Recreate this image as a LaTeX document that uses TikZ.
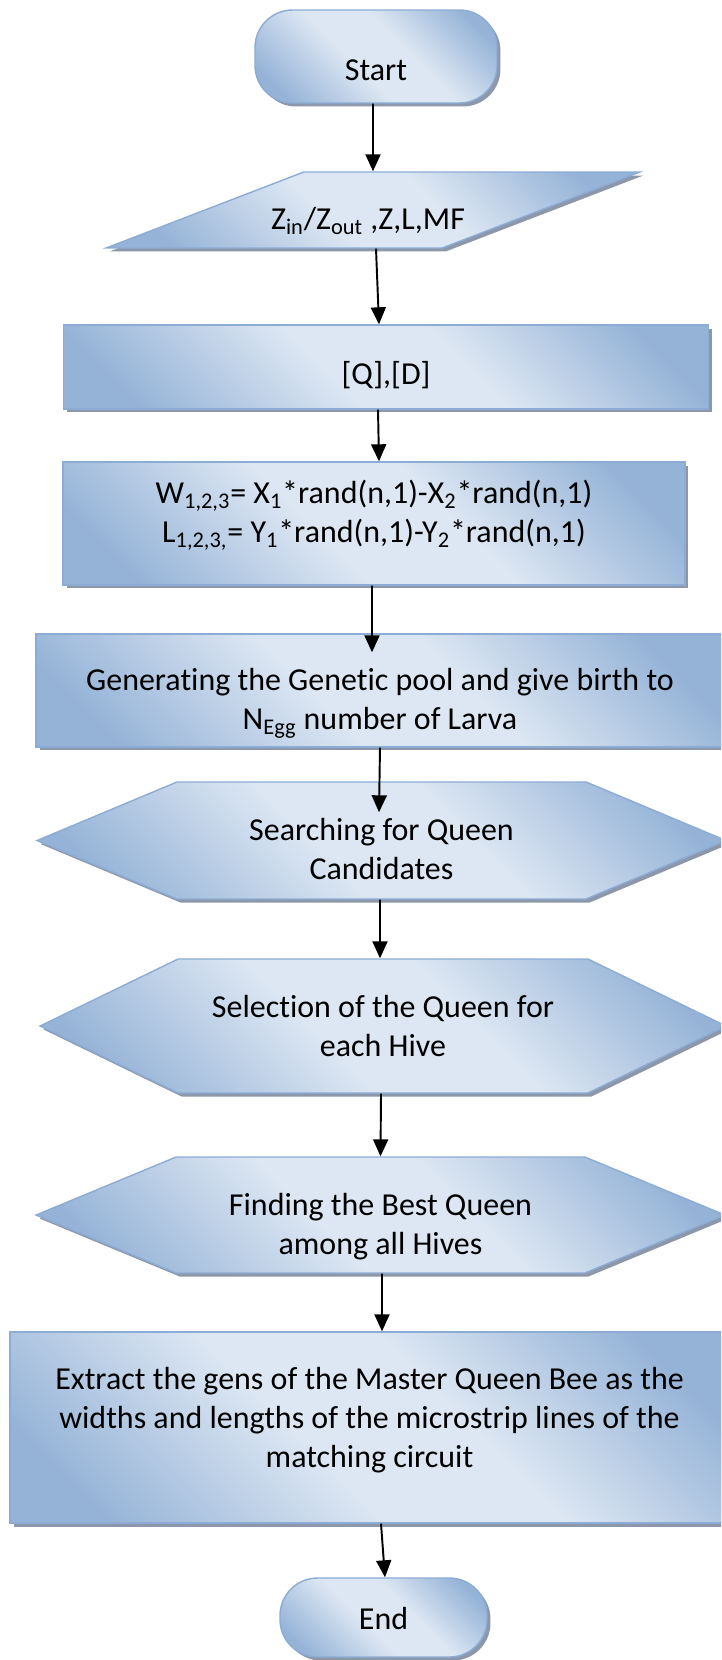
\documentclass[tikz,border=0pt]{standalone}
\usepackage{fontspec}
\setmainfont{Carlito}[Ligatures=NoCommon]
\usetikzlibrary{positioning,arrows.meta,shapes.geometric,shapes.symbols,shadows}
\definecolor{blight}{RGB}{221,231,243}
\definecolor{bdark}{RGB}{149,179,215}
\definecolor{bline}{RGB}{140,172,214}
\definecolor{shadowc}{RGB}{140,152,170}
\pgfdeclareverticalshading{officeblue}{100bp}{color(0bp)=(bdark); color(22bp)=(bdark);
  color(44bp)=(blight); color(58bp)=(blight); color(78bp)=(bdark); color(100bp)=(bdark)}

\begin{document}
\begin{tikzpicture}[
  x=0.02cm, y=-0.02cm,
  every label/.style={font=\fontsize{18.2}{22.2}\selectfont, align=center, inner sep=0pt},
  flowbox/.style={draw=bline, line width=0.8pt, inner sep=2pt,
    shading=officeblue, shading angle=-45,
    drop shadow={shadow xshift=0.07cm, shadow yshift=-0.07cm, fill=shadowc, opacity=1}},
  term/.style={flowbox, rectangle, rounded corners=0.75cm},
  io/.style={flowbox, trapezium, trapezium left angle=35, trapezium right angle=145,
    trapezium stretches=true},
  proc/.style={flowbox, rectangle},
  prep/.style={flowbox, signal, signal to=west and east},
  arr/.style={-{Triangle[length=0.34cm, width=0.3cm]}, line width=1.1pt},
]
  \useasboundingbox (0,0) rectangle (721,1660);
  \clip (0,0) rectangle (721,1660);

  \node[term, minimum width=4.84cm, minimum height=1.86cm,
    label={[yshift=-0.28cm]center:Start}] (start) at (376,56.5) {};
  \node[io, minimum width=10.68cm, minimum height=1.52cm,
    label={[yshift=-0.22cm, xshift=-0.1cm]center:{Z\textsubscript{in}/Z\textsubscript{out} ,Z,L,MF}}] (input) at (373,210) {};
  \node[proc, minimum width=12.9cm, minimum height=1.68cm,
    label={[yshift=-0.16cm]center:{[Q],[D]}}] (qd) at (386,367) {};
  \node[proc, minimum width=12.44cm, minimum height=2.46cm,
    label={[yshift=0.16cm]center:{W\textsubscript{1,2,3}= X\textsubscript{1}*rand(n,1)-X\textsubscript{2}*rand(n,1)\\
      L\textsubscript{1,2,3,}= Y\textsubscript{1}*rand(n,1)-Y\textsubscript{2}*rand(n,1)}}] (widths) at (374,523.5) {};
  \node[proc, minimum width=13.76cm, minimum height=2.26cm,
    label={[yshift=-0.26cm]center:{Generating the Genetic pool and give birth to\\
      N\textsubscript{Egg} number of Larva}}] (pool) at (380,690.5) {};
  \node[prep, minimum width=13.78cm, minimum height=2.34cm, signal pointer angle=45.4,
    label={[yshift=-0.18cm]center:{Searching for Queen\\Candidates}}] (search) at (381.5,840.5) {};
  \node[prep, minimum width=13.72cm, minimum height=2.68cm, signal pointer angle=51.8,
    label={[yshift=-0.0cm]center:{Selection of the Queen for\\each Hive}}] (select) at (383,1026) {};
  \node[prep, minimum width=13.78cm, minimum height=2.32cm, signal pointer angle=45,
    label={[yshift=-0.24cm]center:{Finding the Best Queen\\among all Hives}}] (best) at (380.5,1215) {};
  \node[proc, minimum width=14.38cm, minimum height=3.82cm,
    label={[yshift=0.14cm]center:{Extract the gens of the Master Queen Bee as the\\
      widths and lengths of the microstrip lines of the\\matching circuit}}] (extract) at (369.5,1427.5) {};
  \node[term, minimum width=4.14cm, minimum height=1.58cm,
    label={[yshift=-0.02cm]center:End}] (end) at (383.5,1617.5) {};

  \draw[arr] ([xshift=-0.06cm]start.south) -- (input.north);
  \draw[arr] ([xshift=0.06cm]input.south) -- ([xshift=-0.14cm]qd.north);
  \draw[arr] ([xshift=-0.16cm]qd.south) -- ([xshift=0.1cm]widths.north);
  \draw[arr] ([xshift=-0.04cm]widths.south) -- ([xshift=-0.16cm, yshift=-0.38cm]pool.north);
  \draw[arr] (pool.south) -- ([xshift=-0.05cm, yshift=-0.62cm]search.north);
  \draw[arr] ([xshift=-0.03cm]search.south) -- ([xshift=-0.06cm]select.north);
  \draw[arr] ([xshift=-0.04cm]select.south) -- (best.north);
  \draw[arr] ([xshift=0.03cm]best.south) -- ([xshift=0.25cm]extract.north);
  \draw[arr] ([xshift=0.23cm]extract.south) -- ([xshift=0.03cm]end.north);
\end{tikzpicture}
\end{document}
